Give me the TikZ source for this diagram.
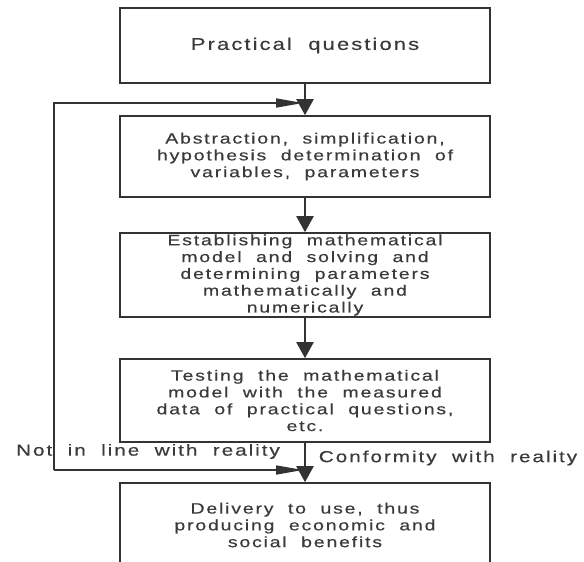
\documentclass[tikz,border=0pt]{standalone}
\usepackage{fontspec}
\setmainfont{Liberation Sans}[FakeStretch=1.3,LetterSpace=12,WordSpace=2,FakeBold=0.4]
\usetikzlibrary{arrows.meta}
\definecolor{linegray}{HTML}{333333}
\definecolor{textgray}{HTML}{3A3A3A}

\begin{document}
\begin{tikzpicture}[x=1pt,y=-1pt,
	stepbox/.style={draw=linegray, line width=1.6pt, minimum width=370pt, inner sep=0pt,
		align=center, text=textgray, font=\fontsize{15}{16.8}\selectfont},
	vflow/.style={draw=linegray, line width=2.2pt, -{Triangle[length=16pt,width=17pt]}},
	hflow/.style={draw=linegray, line width=1.6pt, -{Triangle[length=27pt,width=9pt]}},
	remark/.style={text=textgray, font=\fontsize{16}{18}\selectfont, inner sep=0pt}]
	
		%%Frame
		\useasboundingbox (0,0) rectangle (584,562);
		\clip (0,0) rectangle (584,562);
		
		%%Boxes
		\node[stepbox, minimum height=75pt, font=\fontsize{17}{19}\selectfont] (quest) at (305,45.5) {Practical questions};
		\node[stepbox, minimum height=81pt] (abstr) at (305,156.5) {Abstraction, simplification,\\hypothesis determination of\\variables, parameters};
		\node[stepbox, minimum height=84pt] (model) at (305,275) {Establishing mathematical\\model and solving and\\determining parameters\\mathematically and\\numerically};
		\node[stepbox, minimum height=83pt] (test) at (305,400.5) {Testing the mathematical\\model with the measured\\data of practical questions,\\etc.};
		\node[stepbox, minimum height=84pt] (deliv) at (305,525) {Delivery to use, thus\\producing economic and\\social benefits};
		
		%%Label
		\node[remark] (notin) at (148,451.5) {Not in line with reality};
		\node[remark] (conform) at (448,458) {Conformity with reality};
		
		%%Junctions
		\coordinate (jtop) at (303,103);
		\coordinate (jbot) at (303,470);
		\coordinate (fback) at (54,470);
		
		%%Arrows
		\draw[vflow] (quest.south) -- (abstr.north);
		\draw[vflow] (abstr.south) -- (model.north);
		\draw[vflow] (model.south) -- (test.north);
		\draw[vflow] (test.south) -- (deliv.north);
		\draw[hflow] (fback) -- (jbot);
		\draw[hflow] (fback) |- (jtop);
\end{tikzpicture}
\end{document}
